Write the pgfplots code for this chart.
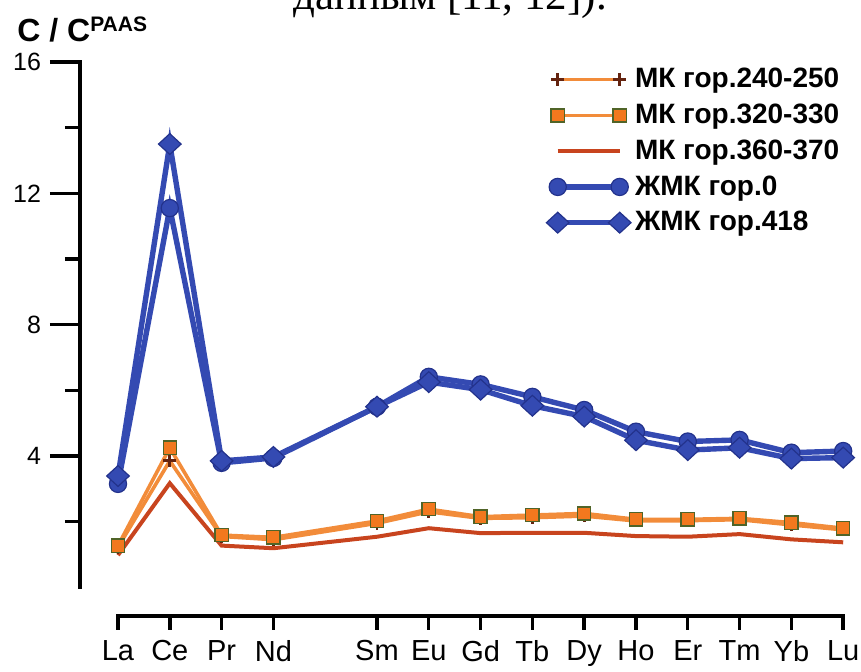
\documentclass[border=0pt]{standalone}
\usepackage{pgfplots}
\pgfplotsset{compat=1.18}
\usepackage{fontspec}
\setmainfont{Liberation Sans}
\newfontfamily\capfont{Liberation Serif}
\definecolor{blu}{RGB}{52,74,178}
\definecolor{bludark}{RGB}{35,50,140}
\definecolor{orl}{RGB}{242,140,58}
\definecolor{orf}{RGB}{242,120,30}
\definecolor{olivec}{RGB}{80,100,40}
\definecolor{redl}{RGB}{200,68,30}
\definecolor{crossc}{RGB}{100,35,15}
\begin{document}
\begin{tikzpicture}
\pgfplotsset{
  common/.style={scale only axis, width=390.5pt, height=277pt,
    xmin=-0.7336, xmax=14.344, ymin=-0.874, ymax=16,
    axis line style={draw=none}, tick align=outside, clip=false,
    axis x line*=bottom, axis y line*=left}
}
\begin{axis}[common, xtick=\empty, ytick={4,8,12,16}, minor ytick={2,6,10,14},
  major tick length=15pt, minor tick length=7.5pt,
  major tick style={line width=1.7pt,black}, minor tick style={line width=1.7pt,black},
  yticklabel style={font=\fontsize{12.5}{14}\selectfont, xshift=-1pt},
  /pgf/number format/assume math mode=true]
\draw[line width=1.7pt, line cap=rect] (axis cs:-0.7336,0) -- (axis cs:-0.7336,16);
\end{axis}
\begin{axis}[common, ytick=\empty,
  xtick={0,1,2,3,5,6,7,8,9,10,11,12,13,14},
  xticklabels={La,Ce,Pr,Nd,Sm,Eu,Gd,Tb,Dy,Ho,Er,Tm,Yb,Lu},
  major tick length=7pt, major tick style={line width=1.7pt,black},
  xticklabel style={font=\fontsize{14.5}{16}\selectfont, yshift=-1.5pt},
  legend image code/.code={\draw[#1] plot coordinates {(0pt,0pt) (31pt,0pt)};},
  legend style={draw=none, fill=none, at={(0.589,1.0036)}, anchor=north west,
    font=\bfseries\fontsize{14}{16}\selectfont, row sep=2.6pt},
  legend cell align=left]
\draw[line width=1.7pt, line cap=rect] (axis cs:0,-0.874) -- (axis cs:14,-0.874);
\addplot[orl, line width=1.8pt, mark=+, mark size=3.2pt, mark options={crossc, line width=1.4pt}] coordinates {
(0,1.22) (1,3.85) (2,1.55) (3,1.45) (5,1.95) (6,2.30) (7,2.10) (8,2.12) (9,2.17) (10,2.02) (11,2.03) (12,2.06) (13,1.90) (14,1.75)};
\addlegendentry{МК гор.240-250}
\addplot[orl, line width=1.8pt, mark=square*, mark size=3.3pt, mark options={fill=orf, draw=olivec, line width=0.7pt}] coordinates {
(0,1.27) (1,4.25) (2,1.59) (3,1.52) (5,2.02) (6,2.38) (7,2.15) (8,2.20) (9,2.25) (10,2.07) (11,2.07) (12,2.10) (13,1.97) (14,1.80)};
\addlegendentry{МК гор.320-330}
\addplot[redl, line width=2pt, no markers] coordinates {
(0,0.98) (1,3.17) (2,1.27) (3,1.19) (5,1.54) (6,1.80) (7,1.65) (8,1.66) (9,1.66) (10,1.56) (11,1.54) (12,1.62) (13,1.46) (14,1.37)};
\addlegendentry{МК гор.360-370}
\addplot[blu, line width=2.7pt, mark=*, mark size=4.3pt, mark options={fill=blu, draw=bludark, line width=0.6pt}] coordinates {
(0,3.15) (1,11.55) (2,3.79) (3,3.94) (5,5.50) (6,6.41) (7,6.18) (8,5.80) (9,5.40) (10,4.74) (11,4.44) (12,4.49) (13,4.10) (14,4.15)};
\addlegendentry{ЖМК гор.0}
\addplot[blu, line width=2.7pt, mark=diamond*, mark size=5.2pt, mark options={fill=blu, draw=bludark, line width=0.6pt, xscale=1.45}] coordinates {
(0,3.39) (1,13.5) (2,3.85) (3,3.97) (5,5.50) (6,6.25) (7,6.02) (8,5.53) (9,5.20) (10,4.48) (11,4.18) (12,4.25) (13,3.92) (14,3.95)};
\addlegendentry{ЖМК гор.418}
\end{axis}
\node[anchor=base west, inner sep=0pt, font=\bfseries\fontsize{16}{18}\selectfont] at (-31.5pt,287pt) {C / C\raisebox{5pt}{\fontsize{10.5}{12}\selectfont PAAS}};
\node[anchor=base west, inner sep=0pt, font=\capfont\fontsize{21.5}{24}\selectfont] at (106.5pt,303pt) {данным [11, 12]).};
\pgfresetboundingbox
\path[use as bounding box] (-40pt,-28pt) rectangle (390.5pt,308pt);
\end{tikzpicture}
\end{document}
